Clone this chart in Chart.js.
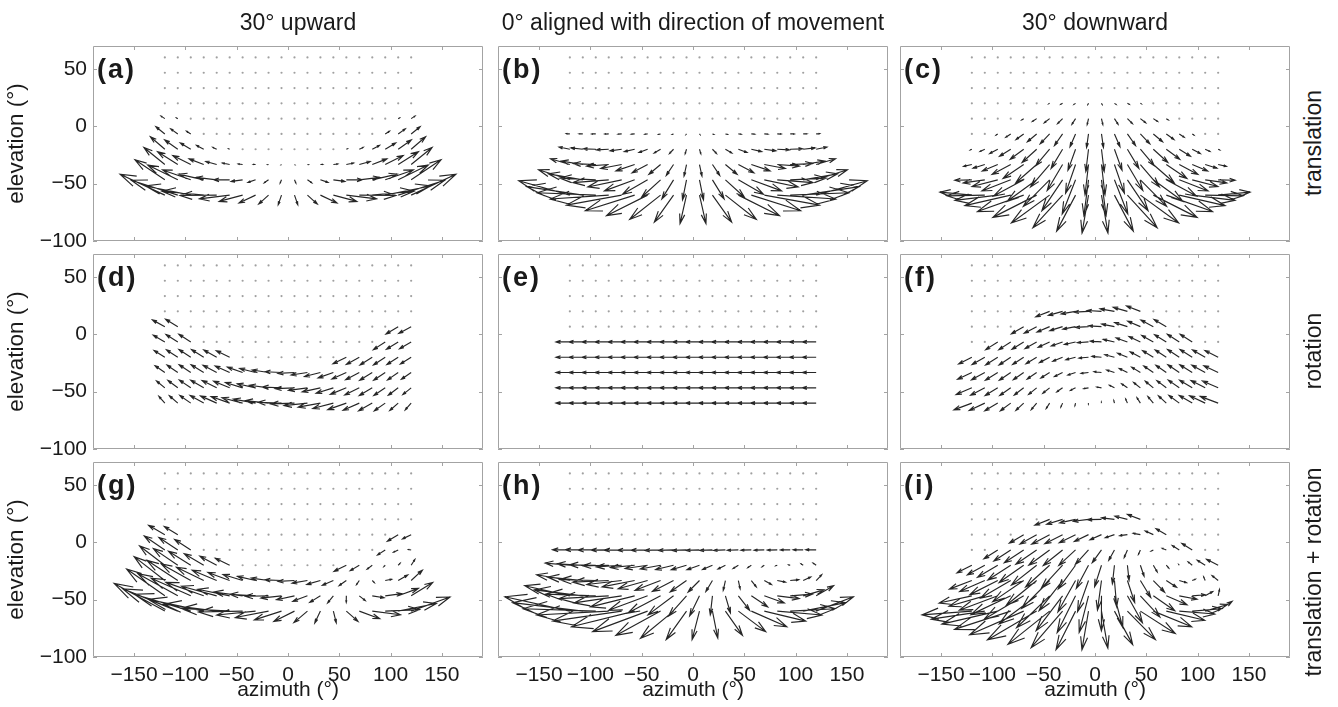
<!DOCTYPE html>
<html>
<head>
<meta charset="utf-8">
<script src="https://cdn.jsdelivr.net/npm/chart.js@4.4.0/dist/chart.umd.min.js"></script>
<style>
  html, body { margin: 0; padding: 0; background: #fff; }
  #fig { position: relative; width: 1338px; height: 707px; overflow: hidden;
         font-family: "Liberation Sans", Arial, Helvetica, sans-serif; color: #1a1a1a; }
  #fig canvas { position: absolute; }
  .lbl { position: absolute; white-space: nowrap; font-size: 21px; line-height: 1; }
  .colTitle { font-size: 23px; transform: translate(-50%, -50%); }
  .rowTitle { font-size: 23px; transform: translate(-50%, -50%) rotate(-90deg); }
  .tag { font-weight: bold; font-size: 27px; letter-spacing: 2px; transform: translateY(-50%); }
</style>
</head>
<body>
<div id="fig"></div>
<script>
// --- grid of sample directions (degrees) ---
const _ = null;
const azimuths = [-120, -107.37, -94.74, -82.11, -69.47, -56.84, -44.21, -31.58, -18.95, -6.32,
                  6.32, 18.95, 31.58, 44.21, 56.84, 69.47, 82.11, 94.74, 107.37, 120];
const elevations = [60, 46.67, 33.33, 20, 6.67, -6.67, -20, -33.33, -46.67, -60];
const azimuthTicks = [-150, -100, -50, 0, 50, 100, 150];
const elevationTicks = [-100, -50, 0, 50];

const columnTitles = ["30\u00b0 upward", "0\u00b0 aligned with direction of movement", "30\u00b0 downward"];
const rowTitles = ["translation", "rotation", "translation + rotation"];
const panelTags = ["(a)", "(b)", "(c)", "(d)", "(e)", "(f)", "(g)", "(h)", "(i)"];

// --- flow vectors (azimuth / elevation components, deg); one row per elevation, null = no ground ---
// (a) translation, eye 30 deg up
const uTransUp = [
  [], [], [], [],
  [-3.7, -1.3, _, _, _, _, _, _, _, _, _, _, _, _, _, _, _, _, 1.3, 3.7],
  [-8.7, -6.9, -4.1, _, _, _, _, _, _, _, _, _, _, _, _, _, _, 4.1, 6.9, 8.7],
  [-14.1, -12.8, -10.2, -7.0, -3.8, -1.0, _, _, _, _, _, _, _, _, 1.0, 3.8, 7.0, 10.2, 12.8, 14.1],
  [-20.4, -19.7, -17.5, -14.3, -10.6, -7.1, -4.2, -2.2, -0.9, -0.2, 0.2, 0.9, 2.2, 4.2, 7.1, 10.6, 14.3, 17.5, 19.7, 20.4],
  [-29.1, -29.3, -27.5, -24.2, -20.0, -15.5, -11.2, -7.4, -4.2, -1.3, 1.3, 4.2, 7.4, 11.2, 15.5, 20.0, 24.2, 27.5, 29.3, 29.1],
  [-43.6, -45.3, -44.2, -40.8, -35.7, -29.5, -22.9, -16.2, -9.6, -3.2, 3.2, 9.6, 16.2, 22.9, 29.5, 35.7, 40.8, 44.2, 45.3, 43.6]
];
const vTransUp = [
  [], [], [], [],
  [2.2, 0.7, _, _, _, _, _, _, _, _, _, _, _, _, _, _, _, _, 0.7, 2.2],
  [6.3, 4.4, 2.4, _, _, _, _, _, _, _, _, _, _, _, _, _, _, 2.4, 4.4, 6.3],
  [10.9, 8.1, 5.5, 3.3, 1.6, 0.4, _, _, _, _, _, _, _, _, 0.4, 1.6, 3.3, 5.5, 8.1, 10.9],
  [14.9, 11.2, 7.8, 4.9, 2.7, 1.3, 0.5, 0.1, -0.1, -0.1, -0.1, -0.1, 0.1, 0.5, 1.3, 2.7, 4.9, 7.8, 11.2, 14.9],
  [17.5, 12.9, 8.6, 5.0, 2.1, 0.0, -1.4, -2.2, -2.6, -2.7, -2.7, -2.6, -2.2, -1.4, 0.0, 2.1, 5.0, 8.6, 12.9, 17.5],
  [18.2, 13.0, 8.0, 3.5, -0.3, -3.3, -5.5, -6.9, -7.8, -8.3, -8.3, -7.8, -6.9, -5.5, -3.3, -0.3, 3.5, 8.0, 13.0, 18.2]
];

// (b) translation, eye level
const uTransLevel = [
  [], [], [], [], [],
  [-3.4, -3.7, -3.9, -3.8, -3.6, -3.3, -2.7, -2.0, -1.3, -0.4, 0.4, 1.3, 2.0, 2.7, 3.3, 3.6, 3.8, 3.9, 3.7, 3.4],
  [-10.5, -11.5, -12.0, -12.0, -11.3, -10.1, -8.4, -6.3, -3.9, -1.3, 1.3, 3.9, 6.3, 8.4, 10.1, 11.3, 12.0, 12.0, 11.5, 10.5],
  [-18.9, -20.8, -21.8, -21.6, -20.5, -18.3, -15.2, -11.4, -7.1, -2.4, 2.4, 7.1, 11.4, 15.2, 18.3, 20.5, 21.6, 21.8, 20.8, 18.9],
  [-30.5, -33.6, -35.1, -34.9, -33.0, -29.5, -24.5, -18.4, -11.4, -3.9, 3.9, 11.4, 18.4, 24.5, 29.5, 33.0, 34.9, 35.1, 33.6, 30.5],
  [-49.8, -54.9, -57.3, -57.0, -53.9, -48.1, -40.1, -30.1, -18.7, -6.3, 6.3, 18.7, 30.1, 40.1, 48.1, 53.9, 57.0, 57.3, 54.9, 49.8]
];
const vTransLevel = [
  [], [], [], [], [],
  [0.2, 0.1, 0.0, -0.1, -0.2, -0.2, -0.3, -0.4, -0.4, -0.4, -0.4, -0.4, -0.4, -0.3, -0.2, -0.2, -0.1, 0.0, 0.1, 0.2],
  [1.9, 1.2, 0.3, -0.5, -1.4, -2.1, -2.8, -3.3, -3.7, -3.9, -3.9, -3.7, -3.3, -2.8, -2.1, -1.4, -0.5, 0.3, 1.2, 1.9],
  [5.0, 3.0, 0.8, -1.4, -3.5, -5.5, -7.2, -8.5, -9.5, -10.0, -10.0, -9.5, -8.5, -7.2, -5.5, -3.5, -1.4, 0.8, 3.0, 5.0],
  [8.8, 5.2, 1.5, -2.4, -6.2, -9.6, -12.6, -15.0, -16.6, -17.5, -17.5, -16.6, -15.0, -12.6, -9.6, -6.2, -2.4, 1.5, 5.2, 8.8],
  [12.5, 7.4, 2.1, -3.4, -8.7, -13.6, -17.9, -21.2, -23.6, -24.8, -24.8, -23.6, -21.2, -17.9, -13.6, -8.7, -3.4, 2.1, 7.4, 12.5]
];

// (c) translation, eye 30 deg down
const uTransDown = [
  [], [], [],
  [_, _, _, _, _, _, -0.9, -1.7, -1.5, -0.6, 0.6, 1.5, 1.7, 0.9, _, _, _, _, _, _],
  [_, _, _, _, -2.0, -4.2, -5.2, -4.9, -3.5, -1.3, 1.3, 3.5, 4.9, 5.2, 4.2, 2.0, _, _, _, _],
  [_, _, -1.7, -4.8, -7.5, -9.0, -9.2, -7.9, -5.4, -1.9, 1.9, 5.4, 7.9, 9.2, 9.0, 7.5, 4.8, 1.7, _, _],
  [-1.6, -4.6, -7.9, -10.9, -13.2, -14.2, -13.5, -11.2, -7.4, -2.6, 2.6, 7.4, 11.2, 13.5, 14.2, 13.2, 10.9, 7.9, 4.6, 1.6],
  [-8.0, -11.5, -15.1, -18.2, -20.1, -20.3, -18.6, -15.0, -9.7, -3.4, 3.4, 9.7, 15.0, 18.6, 20.3, 20.1, 18.2, 15.1, 11.5, 8.0],
  [-16.6, -21.1, -25.1, -28.1, -29.4, -28.7, -25.6, -20.2, -13.0, -4.5, 4.5, 13.0, 20.2, 25.6, 28.7, 29.4, 28.1, 25.1, 21.1, 16.6],
  [-31.1, -37.1, -41.8, -44.7, -45.1, -42.7, -37.3, -29.0, -18.4, -6.3, 6.3, 18.4, 29.0, 37.3, 42.7, 45.1, 44.7, 41.8, 37.1, 31.1]
];
const vTransDown = [
  [], [], [],
  [_, _, _, _, _, _, -0.4, -0.8, -0.9, -1.0, -1.0, -0.9, -0.8, -0.4, _, _, _, _, _, _],
  [_, _, _, _, -1.1, -2.5, -3.6, -4.4, -4.9, -5.2, -5.2, -4.9, -4.4, -3.6, -2.5, -1.1, _, _, _, _],
  [_, _, -1.0, -2.9, -4.9, -6.8, -8.6, -10.1, -11.2, -11.8, -11.8, -11.2, -10.1, -8.6, -6.8, -4.9, -2.9, -1.0, _, _],
  [-0.7, -2.0, -3.8, -6.1, -8.8, -11.6, -14.3, -16.7, -18.4, -19.4, -19.4, -18.4, -16.7, -14.3, -11.6, -8.8, -6.1, -3.8, -2.0, -0.7],
  [-1.6, -3.2, -5.6, -8.6, -12.1, -15.9, -19.5, -22.7, -25.1, -26.4, -26.4, -25.1, -22.7, -19.5, -15.9, -12.1, -8.6, -5.6, -3.2, -1.6],
  [-0.4, -2.7, -5.8, -9.7, -14.1, -18.7, -23.1, -26.9, -29.8, -31.2, -31.2, -29.8, -26.9, -23.1, -18.7, -14.1, -9.7, -5.8, -2.7, -0.4],
  [2.6, -0.6, -4.6, -9.2, -14.3, -19.4, -24.3, -28.4, -31.4, -33.0, -33.0, -31.4, -28.4, -24.3, -19.4, -14.3, -9.2, -4.6, -0.6, 2.6]
];

// (d) rotation, eye 30 deg up
const uRotUp = [
  [], [], [], [],
  [-12.1, -11.9, _, _, _, _, _, _, _, _, _, _, _, _, _, _, _, _, -11.9, -12.1],
  [-11.3, -11.5, -11.6, _, _, _, _, _, _, _, _, _, _, _, _, _, _, -11.6, -11.5, -11.3],
  [-10.5, -11.0, -11.5, -12.0, -12.6, -13.0, _, _, _, _, _, _, _, _, -13.0, -12.6, -12.0, -11.5, -11.0, -10.5],
  [-9.5, -10.4, -11.3, -12.3, -13.3, -14.1, -14.9, -15.5, -15.9, -16.1, -16.1, -15.9, -15.5, -14.9, -14.1, -13.3, -12.3, -11.3, -10.4, -9.5],
  [-8.1, -9.6, -11.1, -12.7, -14.2, -15.6, -16.8, -17.8, -18.5, -18.8, -18.8, -18.5, -17.8, -16.8, -15.6, -14.2, -12.7, -11.1, -9.6, -8.1],
  [-5.8, -8.2, -10.7, -13.3, -15.8, -18.1, -20.1, -21.7, -22.8, -23.3, -23.3, -22.8, -21.7, -20.1, -18.1, -15.8, -13.3, -10.7, -8.2, -5.8]
];
const vRotUp = [
  [], [], [], [],
  [5.9, 6.4, _, _, _, _, _, _, _, _, _, _, _, _, _, _, _, _, -6.4, -5.9],
  [5.9, 6.4, 6.7, _, _, _, _, _, _, _, _, _, _, _, _, _, _, -6.7, -6.4, -5.9],
  [5.9, 6.4, 6.7, 6.7, 6.3, 5.7, _, _, _, _, _, _, _, _, -5.7, -6.3, -6.7, -6.7, -6.4, -5.9],
  [5.9, 6.4, 6.7, 6.7, 6.3, 5.7, 4.7, 3.5, 2.2, 0.7, -0.7, -2.2, -3.5, -4.7, -5.7, -6.3, -6.7, -6.7, -6.4, -5.9],
  [5.9, 6.4, 6.7, 6.7, 6.3, 5.7, 4.7, 3.5, 2.2, 0.7, -0.7, -2.2, -3.5, -4.7, -5.7, -6.3, -6.7, -6.7, -6.4, -5.9],
  [5.9, 6.4, 6.7, 6.7, 6.3, 5.7, 4.7, 3.5, 2.2, 0.7, -0.7, -2.2, -3.5, -4.7, -5.7, -6.3, -6.7, -6.7, -6.4, -5.9]
];

// (e) rotation, eye level
const uRotLevel = [
  [], [], [], [], [],
  [-13.5, -13.5, -13.5, -13.5, -13.5, -13.5, -13.5, -13.5, -13.5, -13.5, -13.5, -13.5, -13.5, -13.5, -13.5, -13.5, -13.5, -13.5, -13.5, -13.5],
  [-13.5, -13.5, -13.5, -13.5, -13.5, -13.5, -13.5, -13.5, -13.5, -13.5, -13.5, -13.5, -13.5, -13.5, -13.5, -13.5, -13.5, -13.5, -13.5, -13.5],
  [-13.5, -13.5, -13.5, -13.5, -13.5, -13.5, -13.5, -13.5, -13.5, -13.5, -13.5, -13.5, -13.5, -13.5, -13.5, -13.5, -13.5, -13.5, -13.5, -13.5],
  [-13.5, -13.5, -13.5, -13.5, -13.5, -13.5, -13.5, -13.5, -13.5, -13.5, -13.5, -13.5, -13.5, -13.5, -13.5, -13.5, -13.5, -13.5, -13.5, -13.5],
  [-13.5, -13.5, -13.5, -13.5, -13.5, -13.5, -13.5, -13.5, -13.5, -13.5, -13.5, -13.5, -13.5, -13.5, -13.5, -13.5, -13.5, -13.5, -13.5, -13.5]
];
const vRotLevel = [
  [], [], [], [], [],
  [0, 0, 0, 0, 0, 0, 0, 0, 0, 0, 0, 0, 0, 0, 0, 0, 0, 0, 0, 0],
  [0, 0, 0, 0, 0, 0, 0, 0, 0, 0, 0, 0, 0, 0, 0, 0, 0, 0, 0, 0],
  [0, 0, 0, 0, 0, 0, 0, 0, 0, 0, 0, 0, 0, 0, 0, 0, 0, 0, 0, 0],
  [0, 0, 0, 0, 0, 0, 0, 0, 0, 0, 0, 0, 0, 0, 0, 0, 0, 0, 0, 0],
  [0, 0, 0, 0, 0, 0, 0, 0, 0, 0, 0, 0, 0, 0, 0, 0, 0, 0, 0, 0]
];

// (f) rotation, eye 30 deg down
const uRotDown = [
  [], [], [],
  [_, _, _, _, _, _, -13.5, -13.8, -14.0, -14.1, -14.1, -14.0, -13.8, -13.5, _, _, _, _, _, _],
  [_, _, _, _, -12.0, -12.1, -12.3, -12.4, -12.4, -12.5, -12.5, -12.4, -12.4, -12.3, -12.1, -12.0, _, _, _, _],
  [_, _, -11.8, -11.6, -11.4, -11.3, -11.1, -11.0, -10.9, -10.9, -10.9, -10.9, -11.0, -11.1, -11.3, -11.4, -11.6, -11.8, _, _],
  [-12.9, -12.4, -11.9, -11.4, -10.8, -10.4, -9.9, -9.6, -9.4, -9.3, -9.3, -9.4, -9.6, -9.9, -10.4, -10.8, -11.4, -11.9, -12.4, -12.9],
  [-13.9, -13.0, -12.1, -11.1, -10.1, -9.3, -8.5, -7.9, -7.5, -7.3, -7.3, -7.5, -7.9, -8.5, -9.3, -10.1, -11.1, -12.1, -13.0, -13.9],
  [-15.3, -13.8, -12.3, -10.7, -9.2, -7.8, -6.6, -5.6, -4.9, -4.6, -4.6, -4.9, -5.6, -6.6, -7.8, -9.2, -10.7, -12.3, -13.8, -15.3],
  [-17.5, -15.2, -12.7, -10.1, -7.6, -5.3, -3.3, -1.7, -0.6, -0.1, -0.1, -0.6, -1.7, -3.3, -5.3, -7.6, -10.1, -12.7, -15.2, -17.5]
];
const vRotDown = [
  [], [], [],
  [_, _, _, _, _, _, -4.7, -3.5, -2.2, -0.7, 0.7, 2.2, 3.5, 4.7, _, _, _, _, _, _],
  [_, _, _, _, -6.3, -5.7, -4.7, -3.5, -2.2, -0.7, 0.7, 2.2, 3.5, 4.7, 5.7, 6.3, _, _, _, _],
  [_, _, -6.7, -6.7, -6.3, -5.7, -4.7, -3.5, -2.2, -0.7, 0.7, 2.2, 3.5, 4.7, 5.7, 6.3, 6.7, 6.7, _, _],
  [-5.9, -6.4, -6.7, -6.7, -6.3, -5.7, -4.7, -3.5, -2.2, -0.7, 0.7, 2.2, 3.5, 4.7, 5.7, 6.3, 6.7, 6.7, 6.4, 5.9],
  [-5.9, -6.4, -6.7, -6.7, -6.3, -5.7, -4.7, -3.5, -2.2, -0.7, 0.7, 2.2, 3.5, 4.7, 5.7, 6.3, 6.7, 6.7, 6.4, 5.9],
  [-5.9, -6.4, -6.7, -6.7, -6.3, -5.7, -4.7, -3.5, -2.2, -0.7, 0.7, 2.2, 3.5, 4.7, 5.7, 6.3, 6.7, 6.7, 6.4, 5.9],
  [-5.9, -6.4, -6.7, -6.7, -6.3, -5.7, -4.7, -3.5, -2.2, -0.7, 0.7, 2.2, 3.5, 4.7, 5.7, 6.3, 6.7, 6.7, 6.4, 5.9]
];

// (g) translation + rotation, eye 30 deg up
const uBothUp = [
  [], [], [], [],
  [-15.8, -13.2, _, _, _, _, _, _, _, _, _, _, _, _, _, _, _, _, -10.6, -8.4],
  [-20.0, -18.4, -15.7, _, _, _, _, _, _, _, _, _, _, _, _, _, _, -7.5, -4.6, -2.6],
  [-24.6, -23.8, -21.7, -19.0, -16.4, -14.0, _, _, _, _, _, _, _, _, -12.0, -8.8, -5.0, -1.3, 1.8, 3.6],
  [-29.9, -30.1, -28.8, -26.6, -23.9, -21.2, -19.1, -17.7, -16.8, -16.3, -15.9, -15.0, -13.3, -10.7, -7.0, -2.7, 2.0, 6.2, 9.3, 10.9],
  [-37.2, -38.9, -38.6, -36.9, -34.2, -31.1, -28.0, -25.2, -22.7, -20.1, -17.5, -14.3, -10.4, -5.6, -0.1, 5.8, 11.5, 16.4, 19.7, 21.0],
  [-49.4, -53.5, -54.9, -54.1, -51.5, -47.6, -43.0, -37.9, -32.4, -26.5, -20.1, -13.2, -5.5, 2.8, 11.4, 19.9, 27.5, 33.5, 37.1, 37.8]
];
const vBothUp = [
  [], [], [], [],
  [8.1, 7.1, _, _, _, _, _, _, _, _, _, _, _, _, _, _, _, _, -5.7, -3.7],
  [12.2, 10.8, 9.1, _, _, _, _, _, _, _, _, _, _, _, _, _, _, -4.3, -2.0, 0.4],
  [16.8, 14.5, 12.2, 10.0, 7.9, 6.1, _, _, _, _, _, _, _, _, -5.3, -4.7, -3.4, -1.2, 1.7, 5.0],
  [20.8, 17.6, 14.5, 11.6, 9.0, 7.0, 5.2, 3.6, 2.1, 0.6, -0.8, -2.3, -3.4, -4.2, -4.4, -3.6, -1.8, 1.1, 4.8, 9.0],
  [23.4, 19.3, 15.3, 11.7, 8.4, 5.7, 3.3, 1.3, -0.4, -2.0, -3.4, -4.8, -5.7, -6.1, -5.7, -4.2, -1.7, 1.9, 6.5, 11.6],
  [24.1, 19.4, 14.7, 10.2, 6.0, 2.4, -0.8, -3.4, -5.6, -7.6, -9.0, -10.0, -10.4, -10.2, -9.0, -6.6, -3.2, 1.3, 6.6, 12.3]
];

// (h) translation + rotation, eye level
const uBothLevel = [
  [], [], [], [], [],
  [-16.9, -17.2, -17.4, -17.3, -17.1, -16.8, -16.2, -15.5, -14.8, -13.9, -13.1, -12.2, -11.5, -10.8, -10.2, -9.9, -9.7, -9.6, -9.8, -10.1],
  [-24.0, -25.0, -25.5, -25.5, -24.8, -23.6, -21.9, -19.8, -17.4, -14.8, -12.2, -9.6, -7.2, -5.1, -3.4, -2.2, -1.5, -1.5, -2.0, -3.0],
  [-32.4, -34.3, -35.3, -35.1, -34.0, -31.8, -28.7, -24.9, -20.6, -15.9, -11.1, -6.4, -2.1, 1.7, 4.8, 7.0, 8.1, 8.3, 7.3, 5.4],
  [-44.0, -47.1, -48.6, -48.4, -46.5, -43.0, -38.0, -31.9, -24.9, -17.4, -9.6, -2.1, 4.9, 11.0, 16.0, 19.5, 21.4, 21.6, 20.1, 17.0],
  [-63.3, -68.4, -70.8, -70.5, -67.4, -61.6, -53.6, -43.6, -32.2, -19.8, -7.2, 5.2, 16.6, 26.6, 34.6, 40.4, 43.5, 43.8, 41.4, 36.3]
];
const vBothLevel = [
  [], [], [], [], [],
  [0.2, 0.1, 0.0, -0.1, -0.2, -0.2, -0.3, -0.4, -0.4, -0.4, -0.4, -0.4, -0.4, -0.3, -0.2, -0.2, -0.1, 0.0, 0.1, 0.2],
  [1.9, 1.2, 0.3, -0.5, -1.4, -2.1, -2.8, -3.3, -3.7, -3.9, -3.9, -3.7, -3.3, -2.8, -2.1, -1.4, -0.5, 0.3, 1.2, 1.9],
  [5.0, 3.0, 0.8, -1.4, -3.5, -5.5, -7.2, -8.5, -9.5, -10.0, -10.0, -9.5, -8.5, -7.2, -5.5, -3.5, -1.4, 0.8, 3.0, 5.0],
  [8.8, 5.2, 1.5, -2.4, -6.2, -9.6, -12.6, -15.0, -16.6, -17.5, -17.5, -16.6, -15.0, -12.6, -9.6, -6.2, -2.4, 1.5, 5.2, 8.8],
  [12.5, 7.4, 2.1, -3.4, -8.7, -13.6, -17.9, -21.2, -23.6, -24.8, -24.8, -23.6, -21.2, -17.9, -13.6, -8.7, -3.4, 2.1, 7.4, 12.5]
];

// (i) translation + rotation, eye 30 deg down
const uBothDown = [
  [], [], [],
  [_, _, _, _, _, _, -14.4, -15.5, -15.5, -14.7, -13.5, -12.5, -12.1, -12.6, _, _, _, _, _, _],
  [_, _, _, _, -14.0, -16.3, -17.5, -17.3, -15.9, -13.8, -11.2, -8.9, -7.5, -7.1, -7.9, -10.0, _, _, _, _],
  [_, _, -13.5, -16.4, -18.9, -20.3, -20.3, -18.9, -16.3, -12.8, -9.0, -5.5, -3.1, -1.9, -2.3, -3.9, -6.8, -10.1, _, _],
  [-14.5, -17.0, -19.8, -22.3, -24.0, -24.6, -23.4, -20.8, -16.8, -11.9, -6.7, -2.0, 1.6, 3.6, 3.8, 2.4, -0.5, -4.0, -7.8, -11.3],
  [-21.9, -24.5, -27.2, -29.3, -30.2, -29.6, -27.1, -22.9, -17.2, -10.7, -3.9, 2.2, 7.1, 10.1, 11.0, 10.0, 7.1, 3.0, -1.5, -5.9],
  [-31.9, -34.9, -37.4, -38.8, -38.6, -36.5, -32.2, -25.8, -17.9, -9.1, -0.1, 8.1, 14.6, 19.0, 20.9, 20.2, 17.4, 12.8, 7.3, 1.3],
  [-48.6, -52.3, -54.5, -54.8, -52.7, -48.0, -40.6, -30.7, -19.0, -6.4, 6.2, 17.8, 27.3, 34.0, 37.4, 37.5, 34.6, 29.1, 21.9, 13.6]
];
const vBothDown = [
  [], [], [],
  [_, _, _, _, _, _, -5.1, -4.3, -3.1, -1.7, -0.3, 1.3, 2.7, 4.3, _, _, _, _, _, _],
  [_, _, _, _, -7.4, -8.2, -8.3, -7.9, -7.1, -5.9, -4.5, -2.7, -0.9, 1.1, 3.2, 5.2, _, _, _, _],
  [_, _, -7.7, -9.6, -11.2, -12.5, -13.3, -13.6, -13.4, -12.5, -11.1, -9.0, -6.6, -3.9, -1.1, 1.4, 3.8, 5.7, _, _],
  [-6.6, -8.4, -10.5, -12.8, -15.1, -17.3, -19.0, -20.2, -20.6, -20.1, -18.7, -16.2, -13.2, -9.6, -5.9, -2.5, 0.6, 2.9, 4.4, 5.2],
  [-7.5, -9.6, -12.3, -15.3, -18.4, -21.6, -24.2, -26.2, -27.3, -27.1, -25.7, -22.9, -19.2, -14.8, -10.2, -5.8, -1.9, 1.1, 3.2, 4.3],
  [-6.3, -9.1, -12.5, -16.4, -20.4, -24.4, -27.8, -30.4, -32.0, -31.9, -30.5, -27.6, -23.4, -18.4, -13.0, -7.8, -3.0, 0.9, 3.7, 5.5],
  [-3.3, -7.0, -11.3, -15.9, -20.6, -25.1, -29.0, -31.9, -33.6, -33.7, -32.3, -29.2, -24.9, -19.6, -13.7, -8.0, -2.5, 2.1, 5.8, 8.5]
];

const panels = [
  { u: uTransUp, v: vTransUp }, { u: uTransLevel, v: vTransLevel }, { u: uTransDown, v: vTransDown },
  { u: uRotUp, v: vRotUp },     { u: uRotLevel, v: vRotLevel },     { u: uRotDown, v: vRotDown },
  { u: uBothUp, v: vBothUp },   { u: uBothLevel, v: vBothLevel },   { u: uBothDown, v: vBothDown }
];

// --- layout (px) ---
const FIG_H = 707;
const colLeft = [93, 498, 900];
const rowTop = [46, 254, 462];
const BOX_W = 390, BOX_H = 195;
const PAD = 22;
const X_AXIS_H = FIG_H - (rowTop[2] + BOX_H);
const titleX = [298, 693, 1095];
const rowTitleY = [143, 351, 572];

const FONT = '"Liberation Sans", Arial, Helvetica, sans-serif';
const TEXT_COLOR = '#1a1a1a';
const FRAME_COLOR = '#a3a3a3';
const ARROW_COLOR = '#262626';
const DOT_COLOR = '#a0a0a0';
const TICK_LEN = 4;
const HEAD_LEN = 0.33, HEAD_W = 0.3;   // quiver-style arrow heads

const fmt = v => (v < 0 ? '\u2212' + Math.abs(v) : String(v));

// frame, inner tick marks and the arrows, all placed through the chart's scales
const quiverPlugin = {
  id: 'quiver',
  afterDatasetsDraw(chart, args, opts) {
    const { ctx, chartArea: a, scales: { x, y } } = chart;
    const { u, v } = opts;
    ctx.save();
    ctx.beginPath();
    ctx.rect(a.left, a.top, a.right - a.left, a.bottom - a.top);
    ctx.clip();
    ctx.strokeStyle = ARROW_COLOR;
    ctx.lineWidth = 1.15;
    ctx.beginPath();
    u.forEach((row, r) => row.forEach((du, c) => {
      if (du === null) return;
      const dv = v[r][c];
      const x0 = azimuths[c], y0 = elevations[r];
      const x1 = x0 + du, y1 = y0 + dv;
      const hx1 = x1 - HEAD_LEN * (du + HEAD_W * dv), hy1 = y1 - HEAD_LEN * (dv - HEAD_W * du);
      const hx2 = x1 - HEAD_LEN * (du - HEAD_W * dv), hy2 = y1 - HEAD_LEN * (dv + HEAD_W * du);
      const tipX = x.getPixelForValue(x1), tipY = y.getPixelForValue(y1);
      ctx.moveTo(x.getPixelForValue(x0), y.getPixelForValue(y0));
      ctx.lineTo(tipX, tipY);
      ctx.moveTo(x.getPixelForValue(hx1), y.getPixelForValue(hy1));
      ctx.lineTo(tipX, tipY);
      ctx.lineTo(x.getPixelForValue(hx2), y.getPixelForValue(hy2));
    }));
    ctx.stroke();
    ctx.restore();
  },
  afterDraw(chart) {
    const { ctx, chartArea: a, scales: { x, y } } = chart;
    ctx.save();
    ctx.strokeStyle = FRAME_COLOR;
    ctx.lineWidth = 1;
    ctx.beginPath();
    ctx.rect(a.left + 0.5, a.top + 0.5, a.right - a.left - 1, a.bottom - a.top - 1);
    azimuthTicks.forEach(t => {
      const px = Math.round(x.getPixelForValue(t)) + 0.5;
      ctx.moveTo(px, a.top); ctx.lineTo(px, a.top + TICK_LEN);
      ctx.moveTo(px, a.bottom); ctx.lineTo(px, a.bottom - TICK_LEN);
    });
    elevationTicks.forEach(t => {
      const py = Math.round(y.getPixelForValue(t)) + 0.5;
      ctx.moveTo(a.left, py); ctx.lineTo(a.left + TICK_LEN, py);
      ctx.moveTo(a.right, py); ctx.lineTo(a.right - TICK_LEN, py);
    });
    ctx.stroke();
    ctx.restore();
  }
};

const fig = document.getElementById('fig');

function addLabel(text, cls, left, top) {
  const d = document.createElement('div');
  d.className = 'lbl ' + cls;
  d.textContent = text;
  d.style.left = left + 'px';
  d.style.top = top + 'px';
  fig.appendChild(d);
  return d;
}

panels.forEach((p, k) => {
  const r = Math.floor(k / 3), c = k % 3;
  const isLeft = c === 0, isBottom = r === 2;
  const canvasLeft = isLeft ? 0 : colLeft[c] - 2;
  const canvasTop = rowTop[r] - PAD;
  const w = (colLeft[c] - canvasLeft) + BOX_W + 2;
  const h = PAD + BOX_H + (isBottom ? X_AXIS_H : PAD);

  const canvas = document.createElement('canvas');
  canvas.width = w; canvas.height = h;
  canvas.style.left = canvasLeft + 'px';
  canvas.style.top = canvasTop + 'px';
  canvas.style.width = w + 'px';
  canvas.style.height = h + 'px';
  fig.appendChild(canvas);

  // grey markers where there is no arrow
  const dots = [];
  elevations.forEach((el, ri) => azimuths.forEach((az, ci) => {
    const row = p.u[ri];
    if (!row.length || row[ci] === null) dots.push({ x: az, y: el });
  }));

  new Chart(canvas, {
    type: 'scatter',
    data: { datasets: [{ data: dots, pointRadius: 1.1, pointHoverRadius: 0, borderWidth: 0, backgroundColor: DOT_COLOR }] },
    options: {
      responsive: false,
      animation: false,
      devicePixelRatio: 1,
      events: [],
      layout: { padding: { top: PAD, right: 2, left: isLeft ? 0 : 2, bottom: isBottom ? 0 : PAD } },
      plugins: { legend: { display: false }, tooltip: { enabled: false }, quiver: { u: p.u, v: p.v } },
      scales: {
        x: {
          type: 'linear', min: -190, max: 190, display: isBottom,
          afterBuildTicks: s => { s.ticks = azimuthTicks.map(value => ({ value })); },
          afterFit: s => { if (isBottom) s.height = X_AXIS_H; },
          grid: { display: false, drawTicks: false },
          border: { display: false },
          ticks: { color: TEXT_COLOR, font: { family: FONT, size: 21 }, padding: 6, maxRotation: 0, autoSkip: false, callback: fmt },
          title: { display: true, text: 'azimuth (\u00b0)', color: TEXT_COLOR, font: { family: FONT, size: 21 }, padding: { top: 4, bottom: 4 } }
        },
        y: {
          type: 'linear', min: -100, max: 70, display: isLeft,
          afterBuildTicks: s => { s.ticks = elevationTicks.map(value => ({ value })); },
          afterFit: s => { if (isLeft) s.width = colLeft[0]; },
          grid: { display: false, drawTicks: false },
          border: { display: false },
          ticks: { color: TEXT_COLOR, font: { family: FONT, size: 21 }, padding: 6, callback: fmt },
          title: { display: true, text: 'elevation (\u00b0)', color: TEXT_COLOR, font: { family: FONT, size: 22.5 }, padding: { top: 3, bottom: 3 } }
        }
      }
    },
    plugins: [quiverPlugin]
  });

  addLabel(panelTags[k], 'tag', colLeft[c] + 4, rowTop[r] + 23);
});

// column and row headings
columnTitles.forEach((t, c) => addLabel(t, 'colTitle', titleX[c], 22));
rowTitles.forEach((t, r) => addLabel(t, 'rowTitle', 1313, rowTitleY[r]));
</script>
</body>
</html>
